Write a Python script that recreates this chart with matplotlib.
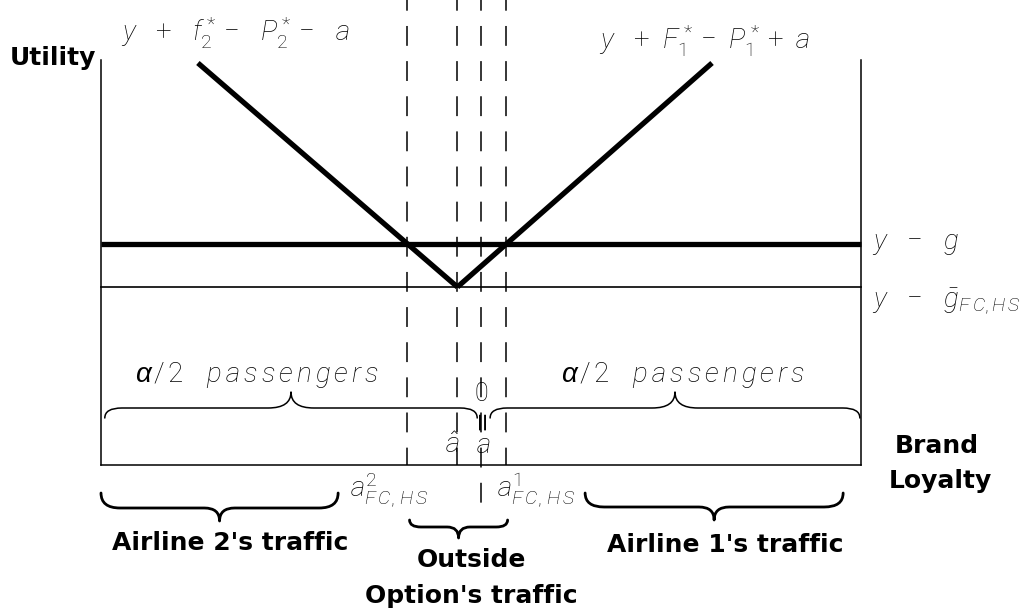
# Brand loyalty / utility diagram (airline traffic split)
import matplotlib
matplotlib.use("Agg")
import matplotlib.pyplot as plt
from matplotlib.path import Path
from matplotlib.patches import PathPatch

plt.rcParams['mathtext.fontset'] = 'custom'
plt.rcParams['mathtext.it'] = 'Roboto:italic:light'
plt.rcParams['mathtext.rm'] = 'Roboto:light'
plt.rcParams['mathtext.bf'] = 'Roboto:bold'

########################################################################
# values (a = brand loyalty, u = utility)

v_left_a = [-0.745, -0.062]
v_left_u = [4.02, 1.78]
v_right_a = [-0.062, 0.608]
v_right_u = [1.78, 4.02]

u_g = 2.21       # y - g
u_gbar = 1.78    # y - gbar_FC,HS

dash_a = [-0.194, -0.062, 0.0, 0.066]   # a2_FC,HS, a_hat, 0, a1_FC,HS

upper_brace_a0 = [-0.99, 0.024]
upper_brace_a1 = [-0.01, 0.997]
lower_brace_a0 = [-1.0, -0.188, 0.274]
lower_brace_a1 = [-0.376, 0.07, 0.953]
lower_brace_names = ["Airline 2's traffic", "Outside\nOption's traffic", "Airline 1's traffic"]

########################################################################

def brace(ax, x0, x1, y_line, y_end, y_tip, w_end, w_tip, lw):
	# curly brace from x0 to x1, ends bent to y_end, tip at y_tip
	xm = (x0 + x1) / 2
	verts = [(x0, y_end), (x0, y_line), (x0 + w_end, y_line),
			(xm - w_tip, y_line),
			(xm, y_line), (xm, y_tip),
			(xm, y_line), (xm + w_tip, y_line),
			(x1 - w_end, y_line),
			(x1, y_line), (x1, y_end)]
	codes = [Path.MOVETO, Path.CURVE3, Path.CURVE3, Path.LINETO,
			Path.CURVE3, Path.CURVE3, Path.CURVE3, Path.CURVE3,
			Path.LINETO, Path.CURVE3, Path.CURVE3]
	ax.add_patch(PathPatch(Path(verts, codes), fill=False, lw=lw, color="black",
				capstyle="round", joinstyle="round"))

########################################################################

W, H = 1029, 613
fig = plt.figure(figsize=(W / 100, H / 100), dpi=100)
ax = fig.add_axes([0, 0, 1, 1])
# map pixels of the reference: a=-1 at x=101, a=1 at x=861, u=0 at y=465, 100 px per u
px_a = 380.0
ax.set_xlim(-1 - 101 / px_a, 1 + (W - 861) / px_a)
ax.set_ylim((465 - H) / 100, 465 / 100)
ax.axis("off")

# box (no top)
ax.plot([-1, -1], [0, 4.05], c="black", lw=1.1)
ax.plot([1, 1], [0, 4.05], c="black", lw=1.1)
ax.plot([-1, 1], [0, 0], c="black", lw=1.1)

# dashed markers
for i, a in enumerate(dash_a):
	bottom = -0.47 if a == 0.0 else 0
	ax.plot([a, a], [4.65, bottom], c="black", lw=1.1, linestyle=(6, (13, 10)))

# utility levels
ax.plot([-1, 1], [u_g, u_g], c="black", lw=3.8, solid_capstyle="butt")
ax.plot([-1, 1], [u_gbar, u_gbar], c="black", lw=1.2)

# V shaped utility of flying
ax.plot(v_left_a, v_left_u, c="black", lw=3.8, solid_capstyle="butt")
ax.plot(v_right_a, v_right_u, c="black", lw=3.8, solid_capstyle="butt")

# braces
for a0, a1 in zip(upper_brace_a0, upper_brace_a1):
	brace(ax, a0, a1, 0.57, 0.47, 0.73, 0.045, 0.06, 1.1)
brace(ax, lower_brace_a0[0], lower_brace_a1[0], -0.43, -0.28, -0.56, 0.05, 0.04, 2.0)
brace(ax, lower_brace_a0[1], lower_brace_a1[1], -0.62, -0.55, -0.73, 0.03, 0.03, 2.0)
brace(ax, lower_brace_a0[2], lower_brace_a1[2], -0.42, -0.28, -0.55, 0.05, 0.04, 2.0)

# math labels
mfs = 20
ax.text(-0.645, 4.33, r"$y\ \ +\ \ f_2^*-\ \ P_2^*-\ \ a$", fontsize=mfs, ha="center", va="center")
ax.text(0.59, 4.25, r"$y\ \ +\ F_1^*-\ P_1^*+\ a$", fontsize=mfs, ha="center", va="center")
ax.text(1.03, 2.22, r"$y\ \ -\ \ g$", fontsize=mfs, ha="left", va="center")
ax.text(1.03, 1.63, r"$y\ \ -\ \ \bar{g}_{F\,C,H\,S}$", fontsize=mfs, ha="left", va="center")

# alpha / 2 passengers (alpha in a thin italic sans, rest letter spaced)
for a_alpha in [-0.868, 0.253]:
	ax.text(a_alpha, 0.9, "α", fontsize=20, family="Liberation Sans", style="italic",
			ha="right", va="center")
	ax.text(a_alpha + 0.006, 0.9, r"$/\,2\ \ \ p\,a\,s\,s\,e\,n\,g\,e\,r\,s$", fontsize=20,
			ha="left", va="center")

ax.text(0.0, 0.71, "0", fontsize=18, ha="center", va="center", family="Roboto", weight="light")
ax.text(0.0, 0.45, "=", fontsize=18, ha="center", va="center", rotation=90,
		family="DejaVu Sans")
ax.text(-0.076, 0.12, r"$\hat{a}$", fontsize=mfs, ha="center", va="baseline")
ax.text(0.005, 0.12, r"$a$", fontsize=mfs, ha="center", va="baseline")

ax.text(-0.345, -0.25, r"$a^2_{F\,C,\,H\,S}$", fontsize=mfs, ha="left", va="center")
ax.text(0.042, -0.25, r"$a^1_{F\,C,\,H\,S}$", fontsize=mfs, ha="left", va="center")

# bold labels
bfs = 18
ax.text(-1.126, 4.07, "Utility", fontsize=bfs, weight="bold", ha="center", va="center")
ax.text(1.20, 0.12, "Brand", fontsize=bfs, weight="bold", ha="center", va="baseline")
ax.text(1.21, -0.23, "Loyalty", fontsize=bfs, weight="bold", ha="center", va="baseline")

ax.text(-0.66, -0.85, lower_brace_names[0], fontsize=bfs, weight="bold", ha="center", va="baseline")
ax.text(-0.026, -1.02, lower_brace_names[1].split("\n")[0], fontsize=bfs, weight="bold",
		ha="center", va="baseline")
ax.text(-0.026, -1.38, lower_brace_names[1].split("\n")[1], fontsize=bfs, weight="bold",
		ha="center", va="baseline")
ax.text(0.642, -0.87, lower_brace_names[2], fontsize=bfs, weight="bold", ha="center", va="baseline")

fig.savefig("out.png", dpi=100)
